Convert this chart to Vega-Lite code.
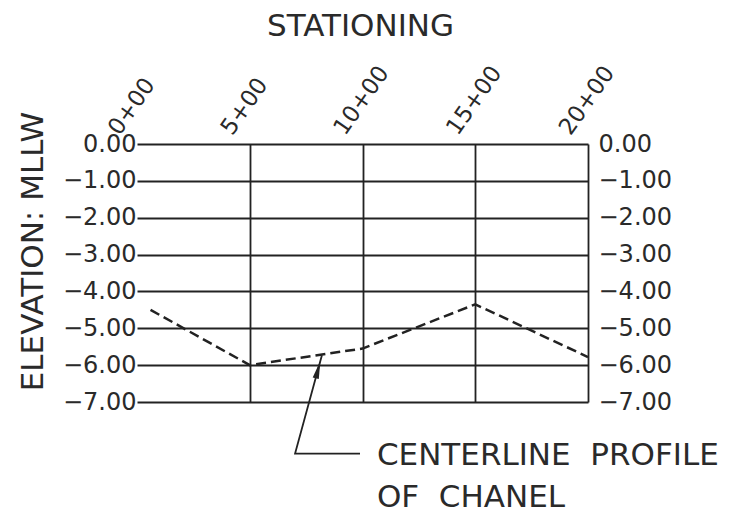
{
  "$schema": "https://vega.github.io/schema/vega-lite/v6.json",
  "autosize": "none",
  "width": 451,
  "height": 258,
  "padding": {"left": 137, "top": 144, "right": 158, "bottom": 112},
  "background": "#ffffff",
  "config": {
    "view": {"stroke": null},
    "font": "DejaVu Sans",
    "axis": {"labelFont": "DejaVu Sans", "titleFont": "DejaVu Sans", "labelColor": "#2a2a2a", "titleColor": "#2a2a2a", "titleFontWeight": "normal", "labelFontWeight": "normal"}
  },
  "datasets": {
    "profile": [
      {"station": 0.6, "elevation": -4.5},
      {"station": 5.0, "elevation": -6.0},
      {"station": 10.0, "elevation": -5.55},
      {"station": 15.0, "elevation": -4.35},
      {"station": 20.0, "elevation": -5.78}
    ],
    "leader": [
      {"station": 9.89, "elevation": -8.4, "order": 1},
      {"station": 7.01, "elevation": -8.4, "order": 2},
      {"station": 8.2, "elevation": -5.73, "order": 3}
    ],
    "arrowhead": [
      {"station": 8.03, "elevation": -6.12}
    ],
    "notes": [
      {"station": 10.64, "elevation": -8.72, "text": "CENTERLINE\u00a0\u00a0PROFILE"},
      {"station": 10.64, "elevation": -9.86, "text": "OF\u00a0\u00a0CHANEL"}
    ]
  },
  "layer": [
    {
      "data": {"name": "profile"},
      "mark": {"type": "line", "color": "#222222", "strokeWidth": 2.5, "strokeDash": [10, 5]},
      "encoding": {
        "x": {
          "field": "station", "type": "quantitative",
          "scale": {"domain": [0, 20], "nice": false, "zero": false},
          "axis": {
            "orient": "top", "values": [0, 5, 10, 15, 20],
            "labelExpr": "datum.value + '+00'",
            "labelAngle": -55, "labelAlign": "left", "labelBaseline": "alphabetic",
            "labelFontSize": 23, "labelOffset": -18, "labelPadding": 8,
            "ticks": false, "domain": false,
            "grid": true, "gridColor": "#222222", "gridWidth": 1.8,
            "gridOpacity": {"condition": {"test": "datum.value === 0", "value": 0}, "value": 1},
            "title": "STATIONING", "titleFontSize": 31, "titleX": 223, "titleY": -109,
            "titleAlign": "center", "titleBaseline": "alphabetic", "titleAngle": 0
          }
        },
        "y": {
          "field": "elevation", "type": "quantitative",
          "scale": {"domain": [-7, 0], "nice": false, "zero": false},
          "axis": {
            "orient": "left", "values": [0, -1, -2, -3, -4, -5, -6, -7],
            "format": ".2f", "labelFontSize": 24, "labelPadding": 1,
            "labelAlign": "right", "labelBaseline": "middle",
            "ticks": false, "domain": false,
            "grid": true, "gridColor": "#222222", "gridWidth": 1.8,
            "title": "ELEVATION: MLLW", "titleFontSize": 31, "titleAngle": -90,
            "titleX": -95, "titleY": 107, "titleAlign": "center", "titleBaseline": "alphabetic"
          }
        }
      }
    },
    {
      "data": {"name": "profile"},
      "mark": {"type": "line", "opacity": 0},
      "encoding": {
        "x": {"field": "station", "type": "quantitative"},
        "y": {
          "field": "elevation", "type": "quantitative",
          "axis": {
            "orient": "right", "values": [0, -1, -2, -3, -4, -5, -6, -7],
            "format": ".2f", "labelFontSize": 24, "labelPadding": 10,
            "labelAlign": "left", "labelBaseline": "middle",
            "ticks": false, "domain": false, "grid": false, "title": null
          }
        }
      }
    },
    {
      "data": {"name": "leader"},
      "mark": {"type": "line", "color": "#222222", "strokeWidth": 1.8},
      "encoding": {
        "x": {"field": "station", "type": "quantitative"},
        "y": {"field": "elevation", "type": "quantitative", "axis": null},
        "order": {"field": "order", "type": "quantitative"}
      }
    },
    {
      "data": {"name": "arrowhead"},
      "mark": {"type": "point", "shape": "M0,-1L0.35,1L-0.35,1Z", "filled": true, "color": "#222222", "opacity": 1, "size": 324, "angle": 15},
      "encoding": {
        "x": {"field": "station", "type": "quantitative"},
        "y": {"field": "elevation", "type": "quantitative", "axis": null}
      }
    },
    {
      "data": {"name": "notes"},
      "mark": {"type": "text", "align": "left", "baseline": "alphabetic", "fontSize": 31, "font": "DejaVu Sans", "color": "#2a2a2a"},
      "encoding": {
        "x": {"field": "station", "type": "quantitative"},
        "y": {"field": "elevation", "type": "quantitative", "axis": null},
        "text": {"field": "text"}
      }
    }
  ],
  "resolve": {"axis": {"y": "independent"}}
}
